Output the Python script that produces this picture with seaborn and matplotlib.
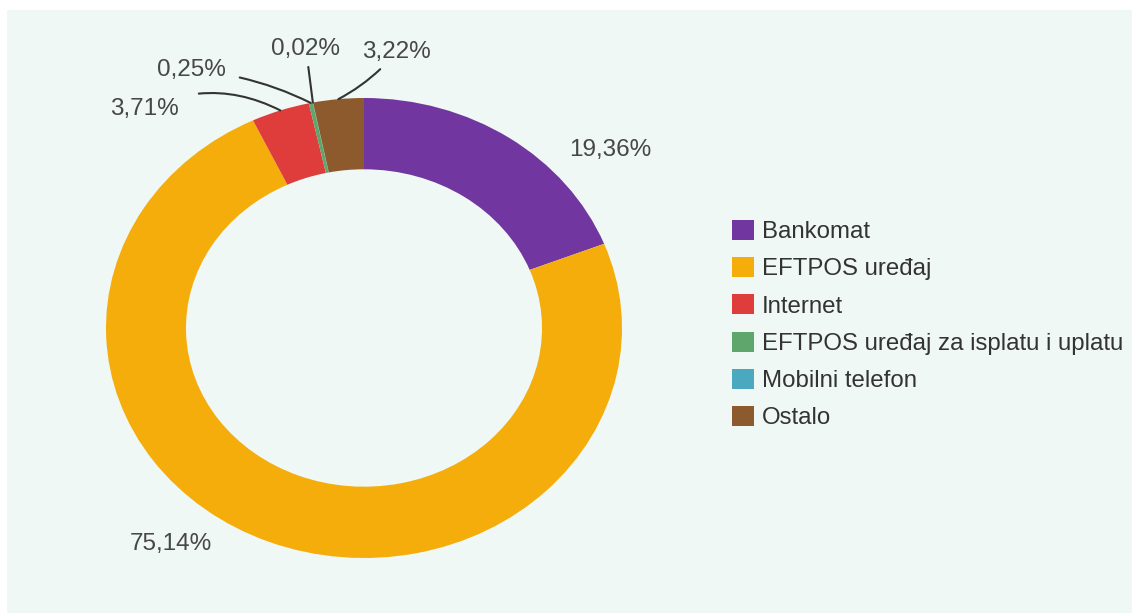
import numpy as np
import matplotlib
matplotlib.use("Agg")
import matplotlib.pyplot as plt
import seaborn as sns
from matplotlib.patches import Rectangle

# data
channels = ["Bankomat", "EFTPOS uređaj", "Internet",
            "EFTPOS uređaj za isplatu i uplatu", "Mobilni telefon", "Ostalo"]
shares = [19.36, 75.14, 3.71, 0.25, 0.02, 3.22]
colors = ["#7136a0", "#f4ad0b", "#de3d3b", "#5ea66c", "#4aa8bf", "#8c5a2c"]

BG = "#eff8f5"
TXT = "#474747"


def pct(v):
    return f"{v:.2f}".replace(".", ",") + "%"


sns.set_theme(style="white")
plt.rcParams["font.family"] = ["Liberation Sans", "DejaVu Sans"]

fig = plt.figure(figsize=(11.32, 6.13), dpi=100)
fig.patch.set_facecolor("white")
fig.add_artist(Rectangle((7 / 1132, 0), 1, 1 - 10 / 613, transform=fig.transFigure,
                         facecolor=BG, edgecolor="none", zorder=-10))

ax = fig.add_axes([106 / 1132, 55 / 613, 516 / 1132, 460 / 613])
ax.set_facecolor("none")
wedges, _ = ax.pie(shares, colors=colors, startangle=90, counterclock=False,
                   radius=1, wedgeprops=dict(width=0.31, edgecolor="none"))
ax.set_aspect("auto")
ax.set_xlim(-1, 1)
ax.set_ylim(-1, 1)
ax.axis("off")

# big slices: plain labels
ax.text(0.955, 0.775, pct(shares[0]), ha="center", va="center", fontsize=17.5, color=TXT)
ax.text(-0.75, -0.94, pct(shares[1]), ha="center", va="center", fontsize=17.5, color=TXT)

# small slices: labels with curved leader lines
small = [(2, (-0.85, 0.95), -0.25, 12),
         (3, (-0.67, 1.12), -0.1, 8),
         (4, (-0.225, 1.215), 0.0, 3),
         (5, (0.125, 1.2), -0.1, 3)]
for i, txt_xy, rad, shrink in small:
    w = wedges[i]
    mid = np.deg2rad((w.theta1 + w.theta2) / 2)
    ax.annotate(pct(shares[i]), xy=(np.cos(mid), np.sin(mid)), xytext=txt_xy,
                ha="center", va="center", fontsize=17.5, color=TXT,
                arrowprops=dict(arrowstyle="-", color="#333333", lw=1.5,
                                shrinkA=shrink, shrinkB=0,
                                connectionstyle=f"arc3,rad={rad}"))

fig.legend(wedges, channels, loc="upper left", bbox_to_anchor=(732 / 1132, 1 - 220 / 613),
           bbox_transform=fig.transFigure, frameon=False, fontsize=17.3,
           handlelength=0.9, handleheight=0.9, handletextpad=0.35,
           labelspacing=0.58, borderpad=0, borderaxespad=0, labelcolor="#333333")

fig.savefig("out.png", dpi=100, facecolor=fig.get_facecolor())
